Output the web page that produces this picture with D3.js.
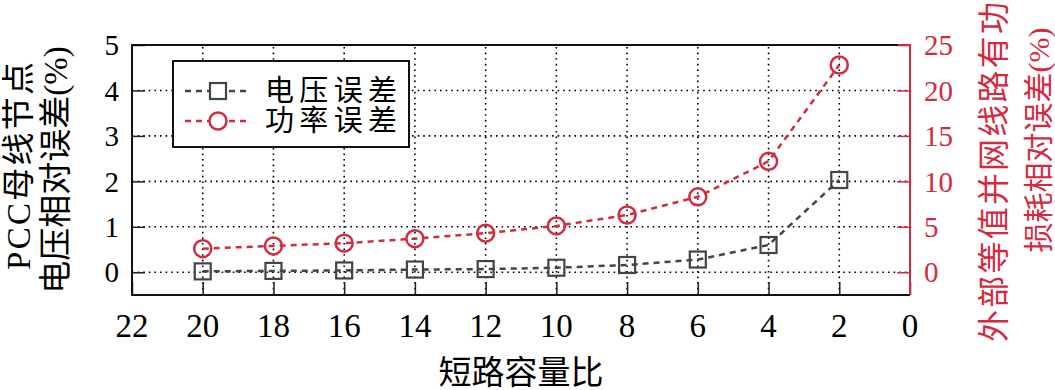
<!DOCTYPE html>
<meta charset="utf-8">
<html>
<script src="https://d3js.org/d3.v7.min.js"></script>
<style>
  body { margin: 0; background: #fff; }
  text { font-family: "Liberation Serif", "Noto Sans CJK SC", serif; }
</style>
<body>
<div id="chart"></div>
<script>

    // data
    const ratios = [20, 18, 16, 14, 12, 10, 8, 6, 4, 2];
    const voltageErr = [0.02, 0.03, 0.04, 0.06, 0.07, 0.1, 0.16, 0.28, 0.6, 2.03];
    const powerErr = [2.6, 2.9, 3.2, 3.7, 4.3, 5.1, 6.3, 8.3, 12.2, 22.8];
    const xTicks = [22, 20, 18, 16, 14, 12, 10, 8, 6, 4, 2, 0];
    const leftTicks = [0, 1, 2, 3, 4, 5];
    const rightTicks = [0, 5, 10, 15, 20, 25];

    const width = 1055, height = 390;
    const pLeft = 132, pRight = 910, pTop = 45, pBottom = 295;
    const red = "#d42a40", gray = "#444";

    const svg = d3.select("#chart")
      .append("svg")
        .attr("width", width)
        .attr("height", height);

    const x = d3.scaleLinear().domain([22, 0]).range([pLeft, pRight]);
    const yL = d3.scaleLinear().domain([-0.5, 5]).range([pBottom, pTop]);
    const yR = d3.scaleLinear().domain([-2.5, 25]).range([pBottom, pTop]);

    // dotted grid
    const grid = svg.append("g")
      .attr("stroke", "#000")
      .attr("stroke-width", 1.6)
      .attr("stroke-dasharray", "1.6,4");
    grid.selectAll("line.v")
      .data(ratios)
      .join("line")
        .attr("class", "v")
        .attr("x1", d => x(d)).attr("x2", d => x(d))
        .attr("y1", pBottom).attr("y2", pTop);
    grid.selectAll("line.h")
      .data(leftTicks.slice(0, 5))
      .join("line")
        .attr("class", "h")
        .attr("x1", pLeft).attr("x2", pRight)
        .attr("y1", d => yL(d)).attr("y2", d => yL(d));

    // axes (ticks pointing inward)
    const xAxis = svg.append("g")
      .attr("transform", `translate(0,${pBottom})`)
      .call(d3.axisTop(x).tickValues(xTicks).tickSize(13).tickFormat(""));
    xAxis.selectAll("line").attr("stroke", "#222").attr("stroke-width", 1.5);
    xAxis.select(".domain").remove();
    svg.selectAll("text.xlab")
      .data(xTicks)
      .join("text")
        .attr("class", "xlab")
        .attr("x", d => x(d))
        .attr("y", 337)
        .attr("text-anchor", "middle")
        .style("font-size", "33px")
        .text(d => d);

    const yAxisL = svg.append("g")
      .attr("transform", `translate(${pLeft},0)`)
      .call(d3.axisRight(yL).tickValues(leftTicks).tickSize(13).tickFormat(""));
    yAxisL.selectAll("line").attr("stroke", "#222").attr("stroke-width", 1.5);
    yAxisL.select(".domain").remove();
    svg.selectAll("text.ylab")
      .data(leftTicks)
      .join("text")
        .attr("class", "ylab")
        .attr("x", 119)
        .attr("y", d => yL(d))
        .attr("dy", "0.35em")
        .attr("text-anchor", "end")
        .style("font-size", "29px")
        .text(d => d);

    const yAxisR = svg.append("g")
      .attr("transform", `translate(${pRight},0)`)
      .call(d3.axisLeft(yR).tickValues(rightTicks).tickSize(13).tickFormat(""));
    yAxisR.selectAll("line").attr("stroke", red).attr("stroke-width", 1.5);
    yAxisR.select(".domain").remove();
    svg.selectAll("text.rlab")
      .data(rightTicks)
      .join("text")
        .attr("class", "rlab")
        .attr("x", 924)
        .attr("y", d => yR(d))
        .attr("dy", "0.35em")
        .attr("fill", red)
        .style("font-size", "29px")
        .text(d => d);

    // frame
    svg.append("path")
      .attr("d", `M${pRight - 12},${pTop}H${pLeft}V${pBottom}H${pRight}`)
      .attr("fill", "none").attr("stroke", "#111").attr("stroke-width", 2);
    svg.append("path")
      .attr("d", `M${pRight - 12},${pTop}H${pRight}V${pBottom}`)
      .attr("fill", "none").attr("stroke", red).attr("stroke-width", 2);

    // series
    const vData = ratios.map((r, i) => [r, voltageErr[i]]);
    const pData = ratios.map((r, i) => [r, powerErr[i]]);

    svg.append("path")
      .datum(vData)
      .attr("fill", "none")
      .attr("stroke", gray)
      .attr("stroke-width", 2.5)
      .attr("stroke-dasharray", "6,5")
      .attr("d", d3.line().x(d => x(d[0])).y(d => yL(d[1])));
    svg.selectAll("rect.vpt")
      .data(vData)
      .join("rect")
        .attr("class", "vpt")
        .attr("x", d => x(d[0]) - 8)
        .attr("y", d => yL(d[1]) - 8)
        .attr("width", 16).attr("height", 16)
        .attr("fill", "none")
        .attr("stroke", gray)
        .attr("stroke-width", 2.2);

    svg.append("path")
      .datum(pData)
      .attr("fill", "none")
      .attr("stroke", red)
      .attr("stroke-width", 2.5)
      .attr("stroke-dasharray", "6,5")
      .attr("d", d3.line().x(d => x(d[0])).y(d => yR(d[1])));
    svg.selectAll("circle.ppt")
      .data(pData)
      .join("circle")
        .attr("class", "ppt")
        .attr("cx", d => x(d[0]))
        .attr("cy", d => yR(d[1]))
        .attr("r", 8.5)
        .attr("fill", "none")
        .attr("stroke", red)
        .attr("stroke-width", 2.5);

    // legend
    const lg = svg.append("g");
    lg.append("rect")
      .attr("x", 173).attr("y", 61).attr("width", 236).attr("height", 86)
      .attr("fill", "#fff").attr("stroke", "#111").attr("stroke-width", 2);
    const legendItems = [
      {label: "电压误差", color: gray, shape: "square", y: 91},
      {label: "功率误差", color: red, shape: "circle", y: 121}
    ];
    legendItems.forEach(it => {
      lg.append("line")
        .attr("x1", 185).attr("x2", 250)
        .attr("y1", it.y).attr("y2", it.y)
        .attr("stroke", it.color).attr("stroke-width", 2.5)
        .attr("stroke-dasharray", "6,5");
      if (it.shape == "square") {
        lg.append("rect")
          .attr("x", 210).attr("y", it.y - 8).attr("width", 16).attr("height", 16)
          .attr("fill", "#fff").attr("stroke", it.color).attr("stroke-width", 2.2);
      } else {
        lg.append("circle")
          .attr("cx", 218).attr("cy", it.y).attr("r", 8.5)
          .attr("fill", "#fff").attr("stroke", it.color).attr("stroke-width", 2.5);
      }
      lg.append("text")
        .attr("x", 265).attr("y", it.y)
        .attr("dy", "0.36em")
        .attr("textLength", 132)
        .attr("lengthAdjust", "spacing")
        .style("font-size", "29px")
        .text(it.label);
    });

    // axis titles
    svg.append("text")
      .attr("x", (pLeft + pRight) / 2)
      .attr("y", 384)
      .attr("text-anchor", "middle")
      .style("font-size", "33px")
      .text("短路容量比");

    // [text, x, y centre, font size, stretched length or null, colour]
    const titles = [
      ["PCC母线节点", 19, 166, 33, 208, "#000"],
      ["电压相对误差(%)", 56, 170, 33, null, "#000"],
      ["外部等值并网线路有功", 994, 172, 32, 340, red],
      ["损耗相对误差(%)", 1038, 140, 30, null, red]
    ];
    titles.forEach(t => {
      const tx = svg.append("text")
        .attr("transform", `translate(${t[1]},${t[2]}) rotate(-90)`)
        .attr("text-anchor", "middle")
        .attr("dominant-baseline", "central")
        .attr("fill", t[5])
        .style("font-size", t[3] + "px")
        .text(t[0]);
      if (t[4]) tx.attr("textLength", t[4]).attr("lengthAdjust", "spacing");
    });

</script>
</body>
</html>
